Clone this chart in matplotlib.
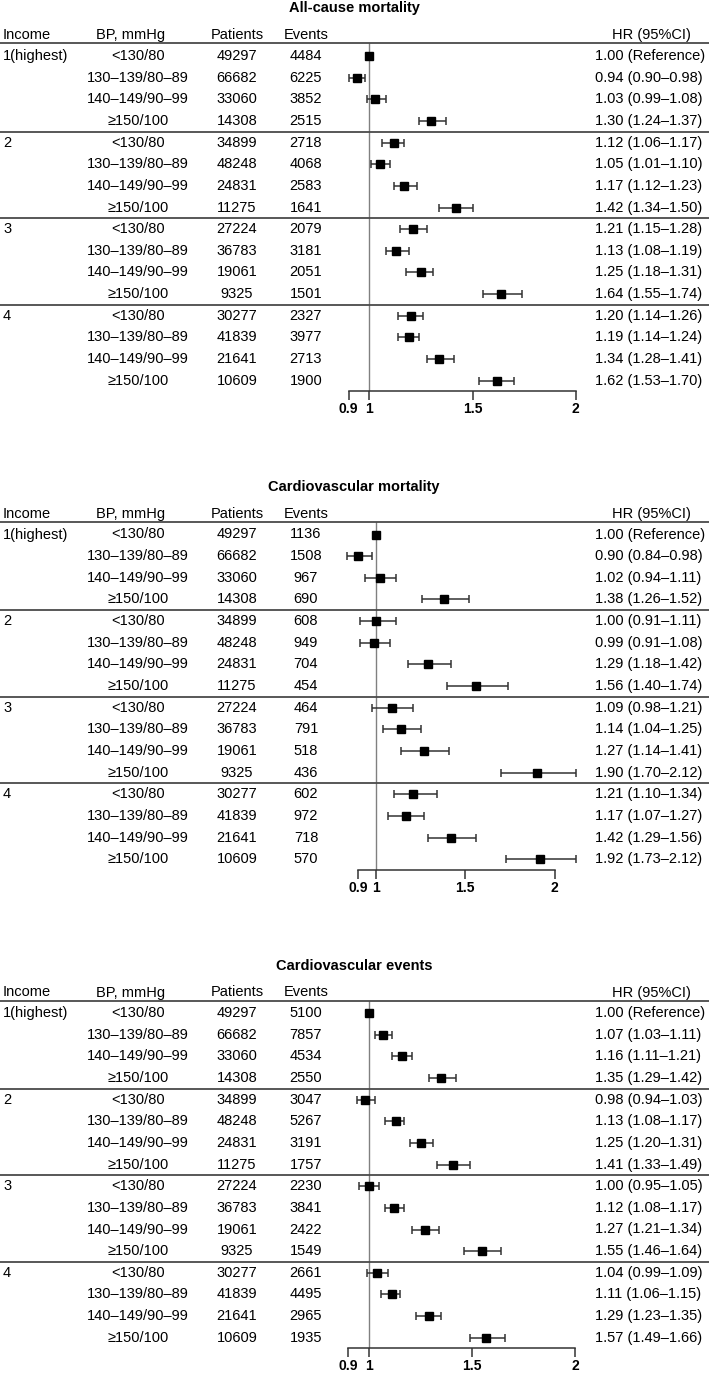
import numpy as np
import matplotlib
matplotlib.use("Agg")
import matplotlib.pyplot as plt
from matplotlib.transforms import blended_transform_factory

plt.rcParams['font.family'] = ['Liberation Sans', 'DejaVu Sans']

# ---------------- data ----------------
income_groups = ["1(highest)", "2", "3", "4"]
bp_cats = ["<130/80", "130–139/80–89", "140–149/90–99", "≥150/100"]
patients = [49297, 66682, 33060, 14308, 34899, 48248, 24831, 11275,
            27224, 36783, 19061, 9325, 30277, 41839, 21641, 10609]

titles = ["All-cause mortality", "Cardiovascular mortality", "Cardiovascular events"]

allcause_events = [4484, 6225, 3852, 2515, 2718, 4068, 2583, 1641,
                   2079, 3181, 2051, 1501, 2327, 3977, 2713, 1900]
allcause_hr = [1.00, 0.94, 1.03, 1.30, 1.12, 1.05, 1.17, 1.42,
               1.21, 1.13, 1.25, 1.64, 1.20, 1.19, 1.34, 1.62]
allcause_lo = [np.nan, 0.90, 0.99, 1.24, 1.06, 1.01, 1.12, 1.34,
               1.15, 1.08, 1.18, 1.55, 1.14, 1.14, 1.28, 1.53]
allcause_hi = [np.nan, 0.98, 1.08, 1.37, 1.17, 1.10, 1.23, 1.50,
               1.28, 1.19, 1.31, 1.74, 1.26, 1.24, 1.41, 1.70]

cvmort_events = [1136, 1508, 967, 690, 608, 949, 704, 454,
                 464, 791, 518, 436, 602, 972, 718, 570]
cvmort_hr = [1.00, 0.90, 1.02, 1.38, 1.00, 0.99, 1.29, 1.56,
             1.09, 1.14, 1.27, 1.90, 1.21, 1.17, 1.42, 1.92]
cvmort_lo = [np.nan, 0.84, 0.94, 1.26, 0.91, 0.91, 1.18, 1.40,
             0.98, 1.04, 1.14, 1.70, 1.10, 1.07, 1.29, 1.73]
cvmort_hi = [np.nan, 0.98, 1.11, 1.52, 1.11, 1.08, 1.42, 1.74,
             1.21, 1.25, 1.41, 2.12, 1.34, 1.27, 1.56, 2.12]

cvev_events = [5100, 7857, 4534, 2550, 3047, 5267, 3191, 1757,
               2230, 3841, 2422, 1549, 2661, 4495, 2965, 1935]
cvev_hr = [1.00, 1.07, 1.16, 1.35, 0.98, 1.13, 1.25, 1.41,
           1.00, 1.12, 1.27, 1.55, 1.04, 1.11, 1.29, 1.57]
cvev_lo = [np.nan, 1.03, 1.11, 1.29, 0.94, 1.08, 1.20, 1.33,
           0.95, 1.08, 1.21, 1.46, 0.99, 1.06, 1.23, 1.49]
cvev_hi = [np.nan, 1.11, 1.21, 1.42, 1.03, 1.17, 1.31, 1.49,
           1.05, 1.17, 1.34, 1.64, 1.09, 1.15, 1.35, 1.66]

xticks = [0.9, 1, 1.5, 2]
xtick_labels = ["0.9", "1", "1.5", "2"]

panels = [
    (titles[0], allcause_events, allcause_hr, allcause_lo, allcause_hi),
    (titles[1], cvmort_events, cvmort_hr, cvmort_lo, cvmort_hi),
    (titles[2], cvev_events, cvev_hr, cvev_lo, cvev_hi),
]

# ---------------- layout (pixels) ----------------
W, H = 709, 1381
fig = plt.figure(figsize=(W / 100, H / 100), dpi=100)

offsets = [0, 478.5, 957]
x_one = [369.3, 376.0, 369.0]      # pixel of HR = 1
x_scale = [206.4, 178.5, 206.0]    # pixels per HR unit
row0 = 56.0
row_step = 21.65
header_line = 43.5
axis_line = 391.0
n_rows = 16

FS = 10.5
line_col = "#4a4a4a"

for p, (title, events, hr, lo, hi) in enumerate(panels):
    oy = offsets[p]
    top_px = oy + header_line
    bot_px = oy + axis_line
    ax = fig.add_axes([0, 1 - bot_px / H, 1, (bot_px - top_px) / H])
    ax.set_xlim(1 - x_one[p] / x_scale[p], 1 + (W - x_one[p]) / x_scale[p])
    y_top = -(row0 - header_line) / row_step
    y_bot = (axis_line - row0) / row_step
    ax.set_ylim(y_bot, y_top)
    ax.set_facecolor("none")

    for s in ["left", "right"]:
        ax.spines[s].set_visible(False)
    ax.spines["top"].set_color(line_col)
    ax.spines["top"].set_linewidth(1.3)
    ax.spines["bottom"].set_bounds(0.9, 2)
    ax.spines["bottom"].set_color("#333333")
    ax.spines["bottom"].set_linewidth(1.1)
    ax.set_yticks([])
    ax.set_xticks(xticks)
    ax.set_xticklabels(xtick_labels, fontsize=10, fontweight="bold")
    ax.tick_params(axis="x", direction="out", length=6.5, width=1.1,
                   color="#333333", pad=1.5)

    rows = np.arange(n_rows)
    # reference line
    ax.axvline(1, color="#808080", lw=1.0, zorder=1)
    # group separators
    for g in range(1, 4):
        ax.axhline(4 * g - 0.5, color=line_col, lw=1.3, zorder=1)

    hr_a = np.array(hr)
    lo_a = np.array(lo)
    hi_a = np.array(hi)
    has_ci = ~np.isnan(lo_a)
    ax.errorbar(hr_a[has_ci], rows[has_ci],
                xerr=[hr_a[has_ci] - lo_a[has_ci], hi_a[has_ci] - hr_a[has_ci]],
                fmt="none", ecolor="#333333", elinewidth=1.1, capsize=2.6,
                capthick=1.1, zorder=2)
    ax.plot(hr_a, rows, "s", color="black", markersize=5.2, zorder=3)

    tr = blended_transform_factory(ax.transAxes, ax.transData)
    def X(px):
        return px / W

    # title and headers
    ax.text(X(354), -(row0 - 8.5) / row_step, title, transform=tr,
            ha="center", va="center", fontsize=FS, fontweight="bold", clip_on=False)
    hy = -(row0 - 35.5) / row_step
    ax.text(X(3), hy, "Income", transform=tr, ha="left", va="center", fontsize=FS, clip_on=False)
    ax.text(X(131), hy, "BP, mmHg", transform=tr, ha="center", va="center", fontsize=FS, clip_on=False)
    ax.text(X(237), hy, "Patients", transform=tr, ha="center", va="center", fontsize=FS, clip_on=False)
    ax.text(X(306), hy, "Events", transform=tr, ha="center", va="center", fontsize=FS, clip_on=False)
    ax.text(X(612), hy, "HR (95%CI)", transform=tr, ha="left", va="center", fontsize=FS, clip_on=False)

    for i in range(n_rows):
        if i % 4 == 0:
            ax.text(X(3), i, income_groups[i // 4], transform=tr, ha="left",
                    va="center", fontsize=FS)
        ax.text(X(138), i, bp_cats[i % 4], transform=tr, ha="center", va="center", fontsize=FS)
        ax.text(X(237), i, str(patients[i]), transform=tr, ha="center", va="center", fontsize=FS)
        ax.text(X(306), i, str(events[i]), transform=tr, ha="center", va="center", fontsize=FS)
        if np.isnan(lo[i]):
            s = f"{hr[i]:.2f} (Reference)"
        else:
            s = f"{hr[i]:.2f} ({lo[i]:.2f}–{hi[i]:.2f})"
        ax.text(X(595), i, s, transform=tr, ha="left", va="center", fontsize=FS)

fig.savefig("out.png", dpi=100, facecolor="white")
